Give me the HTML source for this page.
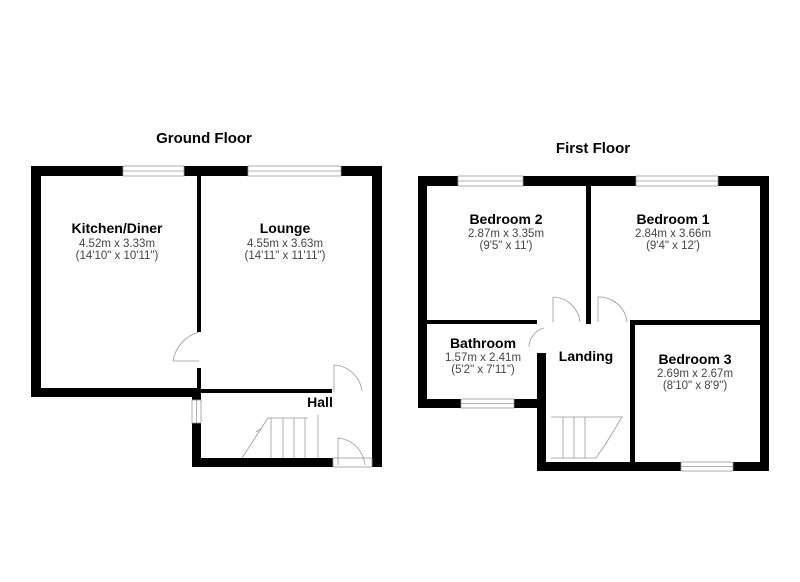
<!DOCTYPE html>
<html><head><style>body{margin:0;background:#fff}svg{display:block}</style></head><body>
<svg width="800" height="582" viewBox="0 0 800 582" xmlns="http://www.w3.org/2000/svg" font-family="Liberation Sans, sans-serif">
<rect width="800" height="582" fill="#fff"/>
<g fill="#000">
<rect x="31" y="166" width="351" height="10"/>
<rect x="31" y="166" width="10" height="231"/>
<rect x="372" y="166" width="10" height="301"/>
<rect x="31" y="388" width="170" height="9"/>
<rect x="197" y="176" width="4" height="156"/>
<rect x="197" y="368" width="4" height="22"/>
<rect x="201" y="389" width="131" height="4"/>
<rect x="192" y="388" width="9" height="79"/>
<rect x="192" y="458" width="141" height="9"/>
<rect x="418" y="176" width="351" height="10"/>
<rect x="418" y="176" width="9" height="232"/>
<rect x="760" y="176" width="9" height="295"/>
<rect x="418" y="399" width="127" height="9"/>
<rect x="537" y="353" width="9" height="118"/>
<rect x="537" y="462" width="232" height="9"/>
<rect x="427" y="320" width="110" height="4"/>
<rect x="586" y="186" width="5" height="138"/>
<rect x="630" y="320" width="130" height="5"/>
<rect x="630" y="320" width="5" height="142"/>
</g>
<g fill="#fff" stroke="#999" stroke-width="0.8">
<rect x="123" y="166" width="61" height="10"/><line x1="123" y1="171" x2="184" y2="171"/>
<rect x="248" y="166" width="93" height="10"/><line x1="248" y1="171" x2="341" y2="171"/>
<rect x="192" y="400" width="9" height="23"/><line x1="196.5" y1="400" x2="196.5" y2="423"/>
<rect x="458" y="176" width="65" height="10"/><line x1="458" y1="181" x2="523" y2="181"/>
<rect x="636" y="176" width="82" height="10"/><line x1="636" y1="181" x2="718" y2="181"/>
<rect x="461" y="399" width="53" height="9"/><line x1="461" y1="403.5" x2="514" y2="403.5"/>
<rect x="681" y="462" width="52" height="9"/><line x1="681" y1="466.5" x2="733" y2="466.5"/>
<rect x="333" y="458" width="39" height="9"/>
</g>
<g fill="none" stroke="#999" stroke-width="0.8">
<path d="M199 332 A36 36 0 0 0 173 361"/><line x1="173" y1="361" x2="199" y2="361"/>
<path d="M334 365 A30 30 0 0 1 362 391"/><line x1="334" y1="365" x2="334" y2="392"/>
<path d="M338 438 A30 30 0 0 1 365 465"/><line x1="338" y1="438" x2="338" y2="465"/>
<path d="M553 297 A28 28 0 0 1 580 322"/><line x1="553" y1="297" x2="553" y2="322"/>
<path d="M598 297 A28 28 0 0 1 627 322"/><line x1="598" y1="297" x2="598" y2="322"/>
<path d="M544 328 A20 20 0 0 0 529 347"/>
<path d="M268 418 L308 418 M268 418 L242 458 M262 428 L256 432 M271 418 V458 M283 418 V458 M294 418 V458 M305 418 V458 M318 415 V458"/>
<path d="M551 417 L622 417 L605 445 L596 458 L551 458 M563 417 V458 M574 417 V458 M585 417 V458"/>
</g>
<g text-anchor="middle">
<text x="204" y="143" font-size="15" font-weight="bold">Ground Floor</text>
<text x="593" y="153" font-size="15" font-weight="bold">First Floor</text>
<g font-size="14" font-weight="bold">
<text x="117" y="233">Kitchen/Diner</text>
<text x="285" y="233">Lounge</text>
<text x="320" y="407">Hall</text>
<text x="506" y="224">Bedroom 2</text>
<text x="673" y="224">Bedroom 1</text>
<text x="483" y="348">Bathroom</text>
<text x="586" y="361">Landing</text>
<text x="695" y="364">Bedroom 3</text>
</g>
<g font-size="11.5" fill="#444">
<text x="117" y="247">4.52m x 3.33m</text><text x="117" y="259">(14'10" x 10'11")</text>
<text x="285" y="247">4.55m x 3.63m</text><text x="285" y="259">(14'11" x 11'11")</text>
<text x="506" y="237">2.87m x 3.35m</text><text x="506" y="249">(9'5" x 11')</text>
<text x="673" y="237">2.84m x 3.66m</text><text x="673" y="249">(9'4" x 12')</text>
<text x="483" y="361">1.57m x 2.41m</text><text x="483" y="373">(5'2" x 7'11")</text>
<text x="695" y="377">2.69m x 2.67m</text><text x="695" y="389">(8'10" x 8'9")</text>
</g>
</g>
</svg>
</body></html>
